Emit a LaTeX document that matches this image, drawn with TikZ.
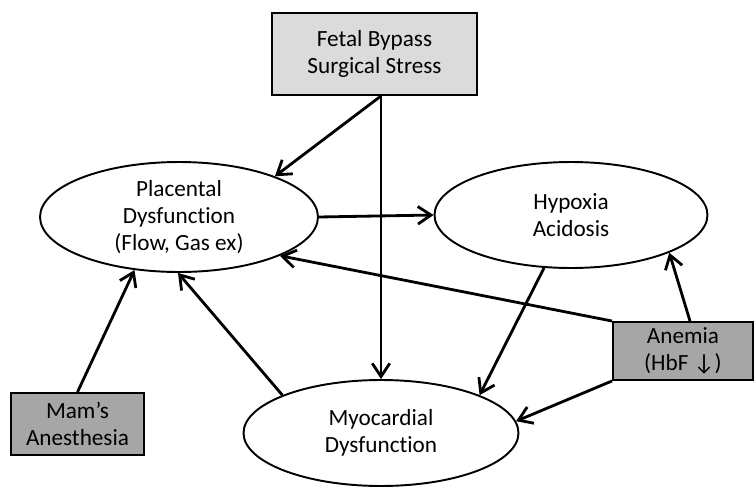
\documentclass[tikz,border=0pt]{standalone}
\usepackage{fontspec}
\setmainfont{Carlito}[Ligatures=NoCommon]
\usepackage{tikz}
\usetikzlibrary{arrows.meta, positioning, shapes}

\begin{document}
\begin{tikzpicture}[x=0.02cm, y=-0.02cm, >={Straight Barb[length=7.5pt, width=10pt]},
  every node/.style={font=\fontsize{13.2}{15.3}\selectfont, align=center, inner sep=0pt},
  cause/.style={draw, line width=1.1pt, minimum width=2.8cm, minimum height=1.16cm},
  state/.style={draw, ellipse, line width=1.1pt, fill=white, minimum width=5.56cm, minimum height=2.2cm},
  link/.style={->, line width=1.6pt}]
\useasboundingbox (0,0) rectangle (755,487);
\node[cause, fill=black!14, minimum width=4.1cm, minimum height=1.64cm] (fetal) at (374.5,54) {Fetal Bypass\\Surgical Stress};
\node[state] (placental) at (179,217) {Placental\\Dysfunction\\(Flow, Gas ex)};
\node[state, minimum width=5.46cm, minimum height=2.12cm] (hypoxia) at (571,215) {Hypoxia\\Acidosis};
\node[state, minimum width=5.5cm, minimum height=2.12cm] (myo) at (381,433) {Myocardial\\Dysfunction};
\node[cause, fill=black!35] (anemia) at (683,351) {Anemia\\(HbF ↓)};
\node[cause, fill=black!35, minimum width=2.66cm, minimum height=1.24cm] (mams) at (77.5,424) {Mam’s\\Anesthesia};

\draw[link] (myo.north |- fetal.south) -- (placental.23);
\draw[link] (myo.north |- fetal.south) -- (myo.north);
\draw[link] (placental.east) -- (hypoxia.west);
\draw[link] (anemia.north west) -- (placental.-21);
\draw[link] ([xshift=7*0.02cm]anemia.north) -- (hypoxia.-21.5);
\draw[link] (anemia.south west) -- (myo.5);
\draw[link] (hypoxia.-117) -- (myo.21);
\draw[link] (myo.159) -- (placental.-91);
\draw[link] (mams.north) -- (placental.-130);
\end{tikzpicture}
\end{document}
